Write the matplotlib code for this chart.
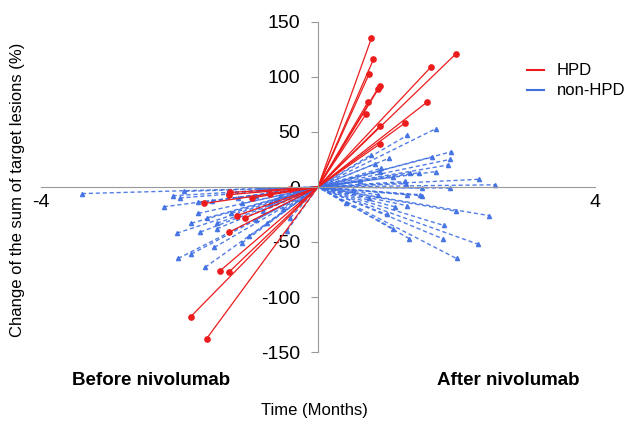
import numpy as np
import matplotlib
matplotlib.use("Agg")
import matplotlib.pyplot as plt

plt.rcParams['font.family'] = ['Liberation Sans', 'DejaVu Sans']
plt.rcParams['axes.unicode_minus'] = False

# HPD patients: before (negative months) and after (positive months)
hpd_before_x = [-1.84, -1.61, -1.41, -1.28, -1.28, -1.17, -1.05, -1.28, -0.96, -1.65, -1.27, -0.70, -0.40]
hpd_before_y = [-118, -138, -76, -77, -41, -26, -28, -7, -10, -15, -5, -6, -2]
hpd_after_x = [0.77, 0.80, 0.74, 0.89, 0.87, 0.72, 0.69, 1.99, 1.63, 1.57, 1.25, 0.89, 0.89]
hpd_after_y = [135, 116, 103, 92, 89, 77, 66, 121, 109, 77, 58, 55, 39]

# non-HPD patients
non_before_x = [-3.41, -2.23, -2.04, -2.02, -1.93, -1.83, -1.73, -1.70, -1.63, -1.83,
                -1.46, -1.46, -1.10, -0.74, -0.72, -1.10, -1.25, -0.40, -1.53, -1.73,
                -0.90, -0.60, -0.50, -0.30, -0.80, -1.30, -2.00, -0.45, -1.00, -0.60,
                -2.10, -1.50, -0.35, -0.55, -0.70, -0.90, -1.15, -0.25, -1.60, -0.85]
non_before_y = [-6, -18, -42, -65, -4, -33, -24, -41, -73, -61,
                -33, -38, -51, -33, -3, -15, -24, -28, -13, -14,
                -8, -12, -20, -5, -22, -5, -10, -40, -45, -3,
                -8, -55, -2, -8, -15, -30, -10, -12, -28, -2]
non_after_x = [1.70, 1.29, 1.92, 1.90, 1.88, 1.64, 1.70, 1.46, 1.33, 1.26,
               2.32, 2.56, 1.90, 1.50, 1.47, 0.89, 1.02, 0.76, 0.82, 0.91,
               1.09, 1.27, 1.28, 1.50, 0.87, 0.73, 1.29, 1.99, 2.47, 1.82,
               2.31, 2.00, 1.32, 1.80, 1.09, 1.11, 0.99, 0.50, 0.60, 0.40]
non_after_y = [53, 47, 32, 25, 20, 27, 14, 13, 13, 5,
               7, 2, -1, -1, -7, 14, 26, 29, 21, 17,
               9, 3, -7, -8, -7, -10, -17, -22, -26, -35,
               -52, -65, -47, -47, -38, -18, -25, -3, 5, -15]

red = '#ec1c1c'
blue = '#3f6fe3'

fig = plt.figure(figsize=(6.29, 4.23), dpi=100)
ax = fig.add_axes([41/629, 1-352/423, (595-41)/629, 330/423])

for bx, by, a_x, a_y in zip(non_before_x, non_before_y, non_after_x, non_after_y):
    ax.plot([bx, 0, a_x], [by, 0, a_y], color=blue, ls=(0, (3, 2)), lw=1.0,
            marker='^', markersize=3, markevery=[0, 2], alpha=0.9)
for bx, by, a_x, a_y in zip(hpd_before_x, hpd_before_y, hpd_after_x, hpd_after_y):
    ax.plot([bx, 0, a_x], [by, 0, a_y], color=red, lw=0.9,
            marker='o', markersize=3.8, markevery=[0, 2])

ax.plot([], [], color=red, lw=1.5, label='HPD')
ax.plot([], [], color=blue, lw=1.5, label='non-HPD')
ax.legend(loc='upper left', bbox_to_anchor=(0.85, 0.92), frameon=False,
          handlelength=1.0, fontsize=12, labelspacing=0.3, handletextpad=0.8)

ax.set_xlim(-4, 4)
ax.set_ylim(-150, 150)
ax.spines['left'].set_position(('data', 0))
ax.spines['bottom'].set_position(('data', 0))
ax.spines['top'].set_visible(False)
ax.spines['right'].set_visible(False)
for s in ['left', 'bottom']:
    ax.spines[s].set_color('#999999')
ax.set_yticks([-150, -100, -50, 0, 50, 100, 150])
ax.tick_params(axis='y', direction='out', length=5, color='#999999', labelsize=14, pad=8)
ax.set_xticks([-4, 4])
ax.set_xticklabels(['-4', '4'])
ax.tick_params(axis='x', length=0, labelsize=14, pad=5)

fig.text(18/629, 1-190/423, 'Change of the sum of target lesions (%)', rotation=90,
         ha='center', va='center', fontsize=12)
fig.text(151/629, 1-380/423, 'Before nivolumab', ha='center', va='center',
         fontsize=13.5, fontweight='bold')
fig.text(508/629, 1-380/423, 'After nivolumab', ha='center', va='center',
         fontsize=13.5, fontweight='bold')
fig.text(314/629, 1-410/423, 'Time (Months)', ha='center', va='center', fontsize=12)

fig.savefig('out.png', dpi=100)
